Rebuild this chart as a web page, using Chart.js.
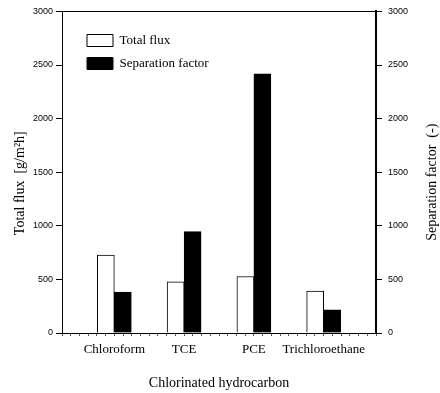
<!DOCTYPE html>
<html>
<head>
<meta charset="utf-8">
<script src="https://cdn.jsdelivr.net/npm/chart.js@4.4.1/dist/chart.umd.min.js"></script>
<style>
  html, body { margin: 0; padding: 0; background: #fff; }
  #wrap { width: 440px; height: 393px; }
</style>
</head>
<body>
<div id="wrap"><canvas id="chart"></canvas></div>
<script>
// Data
const categories = ['Chloroform', 'TCE', 'PCE', 'Trichloroethane'];
const totalFlux = [727, 478, 527, 391];
const separationFactor = [382, 946, 2417, 217];
const yMax = 3000;
const yStep = 500;

const serif = 'Liberation Serif';
const sans = 'Liberation Sans';

// Both vertical axis titles read bottom-to-top in the original
const sideTitles = {
    id: 'sideTitles',
    afterDraw(chart) {
        const ctx = chart.ctx;
        const mid = (chart.chartArea.top + chart.chartArea.bottom) / 2;
        const draw = (text, x, y) => {
            ctx.save();
            ctx.translate(x, y);
            ctx.rotate(-Math.PI / 2);
            ctx.font = '14px "' + serif + '"';
            ctx.fillStyle = '#000';
            ctx.textAlign = 'center';
            ctx.textBaseline = 'middle';
            ctx.fillText(text, 0, 0);
            ctx.restore();
        };
        draw('Total flux  [g/m²h]', 20, mid + 11);
        draw('Separation factor  (-)', 432, mid + 10);
    }
};

// Move the legend inside the plot, upper left
const legendSpot = {
    id: 'legendSpot',
    afterLayout(chart) {
        chart.legend.left = chart.chartArea.left + 15;
        chart.legend.top = 24;
    }
};

const ctx = document.getElementById('chart').getContext('2d');
new Chart(ctx, {
    type: 'bar',
    data: {
        datasets: [{
            label: 'Total flux',
            data: categories.map((c, i) => ({ x: i, y: totalFlux[i] })),
            backgroundColor: '#fff',
            borderColor: '#000',
            borderWidth: 1,
            barThickness: 17,
            yAxisID: 'y'
        }, {
            label: 'Separation factor',
            data: categories.map((c, i) => ({ x: i, y: separationFactor[i] })),
            backgroundColor: '#000',
            borderColor: '#000',
            borderWidth: 1,
            barThickness: 17,
            yAxisID: 'y2'
        }]
    },
    options: {
        responsive: true,
        maintainAspectRatio: false,
        animation: false,
        layout: { padding: { top: 11, left: 0, right: 0, bottom: 0 } },
        plugins: {
            tooltip: { enabled: false },
            legend: {
                position: 'chartArea',
                align: 'start',
                labels: {
                    boxWidth: 26,
                    boxHeight: 12,
                    padding: 10,
                    color: '#000',
                    font: { family: serif, size: 13 }
                }
            }
        },
        scales: {
            x: {
                type: 'linear',
                position: 'bottom',
                offset: false,
                min: -0.75,
                max: 3.75,
                // small ticks every 1/8 of a category, labels only on the categories
                afterBuildTicks(scale) {
                    const t = [];
                    for (let k = 0; k <= 36; k++) t.push({ value: -0.75 + k * 0.125 });
                    scale.ticks = t;
                },
                afterFit(scale) {
                    scale.height = 60;
                    scale.paddingLeft = 0;
                    scale.paddingRight = 0;
                },
                ticks: {
                    autoSkip: false,
                    maxRotation: 0,
                    padding: 6,
                    color: '#000',
                    font: { family: serif, size: 13 },
                    callback: v => Number.isInteger(v) ? categories[v] : ''
                },
                grid: { offset: false, drawOnChartArea: false, tickLength: 3, color: '#555' },
                border: { color: '#000', width: 1 },
                title: {
                    display: true,
                    text: 'Chlorinated hydrocarbon',
                    color: '#000',
                    font: { family: serif, size: 14 },
                    padding: { top: 0, bottom: 1 }
                }
            },
            top: {
                type: 'linear',
                position: 'top',
                min: 0,
                max: 1,
                afterFit(scale) { scale.height = 0; },
                ticks: { display: false },
                grid: { display: false },
                border: { color: '#000', width: 1 }
            },
            y: {
                position: 'left',
                min: 0,
                max: yMax,
                afterFit(scale) { scale.width = 62; },
                ticks: {
                    stepSize: yStep,
                    padding: 3,
                    color: '#000',
                    font: { family: sans, size: 9 },
                    callback: v => String(v)
                },
                grid: { drawOnChartArea: false, tickLength: 6, color: '#000' },
                border: { color: '#000', width: 1 }
            },
            y2: {
                position: 'right',
                min: 0,
                max: yMax,
                afterFit(scale) { scale.width = 64; },
                ticks: {
                    stepSize: yStep,
                    padding: 6,
                    color: '#000',
                    font: { family: sans, size: 9 },
                    callback: v => String(v)
                },
                grid: { drawOnChartArea: false, tickLength: 6, color: '#000' },
                border: { color: '#000', width: 2 }
            }
        }
    },
    plugins: [sideTitles, legendSpot]
});
</script>
</body>
</html>
